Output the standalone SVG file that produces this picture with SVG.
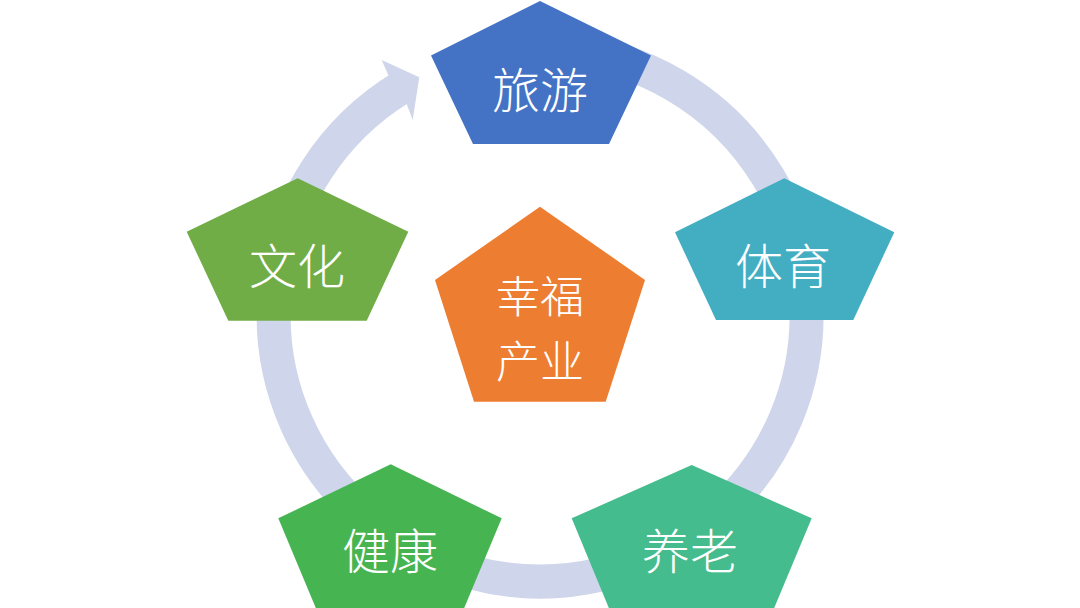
<svg xmlns="http://www.w3.org/2000/svg" width="1080" height="608" viewBox="0 0 1080 608">
  <style>
    .lbl { font-family: "Noto Sans CJK SC", "Noto Sans", sans-serif; font-weight: 300; font-size: 48px; fill: #FFFFFF; text-anchor: middle; dominant-baseline: central; }
    .ctr { font-size: 44px; }
    .ring { fill: none; stroke: #CFD5EA; stroke-width: 34; }
    .head { fill: #CFD5EA; }
  </style>
  <rect width="1080" height="608" fill="#FFFFFF"/>
  <g id="connectors">
    <path class="ring" d="M 563.2 49.5 A 266.5 266.5 0 1 1 400.8 87.8"/>
    <polygon class="head" points="388.5,75.4 381.7,60 419.3,77.3 412.7,120 406.7,104.1"/>
  </g>
  <g id="node-lvyou">
    <polygon points="540,1 651,55.5 609,144 473,144 431,55.5" fill="#4472C4"/>
    <text class="lbl" x="540" y="87">旅游</text>
  </g>
  <g id="node-tiyu">
    <polygon points="784.3,178.3 894.3,232.3 853.3,320 716,320 675,232.3" fill="#43AEC2"/>
    <text class="lbl" x="783" y="263">体育</text>
  </g>
  <g id="node-yanglao">
    <polygon points="691.7,465 811.7,518.3 770,618 613,618 571.7,518.3" fill="#45BC8D"/>
    <text class="lbl" x="690" y="548">养老</text>
  </g>
  <g id="node-jiankang">
    <polygon points="390.7,464.3 501.7,518.3 460,618 320,618 278.3,518.3" fill="#47B452"/>
    <text class="lbl" x="390" y="548">健康</text>
  </g>
  <g id="node-wenhua">
    <polygon points="297.7,178.3 408.3,231.7 366.7,320.7 228.3,320.7 186.7,231.7" fill="#70AD47"/>
    <text class="lbl" x="297" y="263">文化</text>
  </g>
  <g id="node-center">
    <polygon points="540,206.7 645,280 605.7,401.7 474,401.7 435,280" fill="#ED7D31"/>
    <text class="lbl ctr" x="540" y="294">幸福</text>
    <text class="lbl ctr" x="540" y="359">产业</text>
  </g>
</svg>
